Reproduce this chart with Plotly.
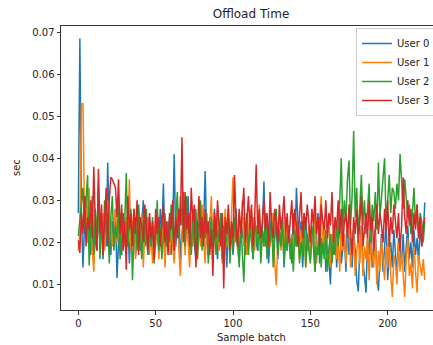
import plotly.graph_objects as go

# Offload time per sample batch, in milliseconds, for each user
user0_ms = [
    27, 68.5, 27, 14, 24, 31, 20, 27, 17, 24, 15, 22, 18, 28, 20,
    24, 16, 26, 19, 39, 22, 17, 25, 19, 28, 11.5, 20, 24, 17, 27,
    21, 18, 26, 15, 23, 20, 27, 17, 22, 25, 18, 24, 30, 19, 22,
    17, 26, 20, 23, 16, 25, 21, 19, 28, 22, 34, 18, 24, 20, 26,
    17, 23, 41, 19, 25, 28, 16, 22, 26, 19, 24, 31, 18, 23, 27,
    20, 16, 25, 22, 29, 19, 24, 37, 21, 17, 26, 23, 19, 28, 22,
    16, 25, 21, 27, 18, 23, 14, 26, 20, 24, 17, 22, 28, 19, 15,
    24, 21, 26, 17, 23, 19, 27, 22, 16, 25, 20, 18, 26, 21, 23,
    34.5, 19, 24, 15, 22, 27, 18, 21, 25, 16, 23, 20, 26, 14, 22,
    18, 24, 20, 15, 27, 19, 33, 23, 17, 25, 14, 21, 26, 18, 22,
    16, 24, 19, 13, 23, 27, 15, 21, 18, 25, 13, 20, 16, 10, 22,
    17, 24, 14, 20, 26, 15, 19, 22, 13, 25, 17, 21, 14, 23, 18,
    11, 8.3, 19, 24, 15, 12, 8, 21, 17, 25, 14, 19, 23, 12, 8.5,
    16, 22, 13, 19, 25, 11, 17, 20, 14, 23, 16, 12, 21, 18, 15,
    22, 13, 19, 24, 16, 20, 14, 23, 17, 21, 15, 25, 19, 22, 29.5,
]
user1_ms = [
    18, 22, 53, 53, 26, 30, 20, 33, 24, 17, 13, 26, 21, 29, 19,
    23, 27, 18, 25, 30, 21, 26, 19, 24, 28, 20, 25, 17, 27, 22,
    19, 26, 21, 35, 18, 24, 28, 16, 22, 25, 19, 27, 14, 23, 20,
    26, 17, 22, 15, 24, 19, 27, 16, 21, 18, 25, 14, 22, 20, 17,
    24, 19, 15, 23, 28, 18, 12, 21, 26, 17, 23, 20, 14, 25, 19,
    22, 27, 16, 24, 19, 29, 21, 15, 25, 18, 23, 31, 17, 22, 20,
    26, 18, 24, 15, 21, 28, 19, 23, 17, 25, 35.5, 20, 24, 18, 27,
    22, 30, 19, 25, 17, 23, 28, 20, 26, 18, 24, 21, 29, 16, 23,
    20, 26, 17, 24, 19, 22, 27, 15, 9.8, 21, 25, 18, 23, 16, 26,
    20, 24, 17, 22, 15, 25, 19, 21, 16, 23, 18, 26, 14, 20, 24,
    17, 22, 19, 28, 15, 21, 25, 31, 18, 23, 16, 20, 27, 14, 22,
    19, 24, 16, 21, 13, 25, 18, 22, 15, 20, 27, 14, 19, 23, 12,
    18, 21, 15, 24, 12, 19, 16, 22, 11, 20, 17, 14, 23, 10, 18,
    13, 21, 16, 11, 19, 14, 22, 12, 7, 17, 15, 10, 20, 13, 18,
    11, 7, 16, 21, 12, 15, 9, 19, 13, 8, 17, 14, 12, 16, 11,
]
user2_ms = [
    21.5, 25, 30, 33, 24, 29, 36, 14.5, 22, 31, 17, 28, 20, 34, 16,
    25, 19, 30, 22, 27, 15, 26, 31, 18, 24, 21, 29, 16, 27, 20,
    25, 36.5, 19, 23, 28, 11, 22, 26, 18, 29, 21, 16, 25, 20, 28,
    17, 23, 19, 26, 15, 21, 30, 18, 24, 16, 22, 27, 19, 25, 20,
    29, 23, 18, 26, 32, 21, 31, 24, 32, 19, 31, 22, 27, 17, 25,
    20, 28, 16, 23, 30, 18, 25, 21, 27, 15, 22, 26, 19, 24, 17,
    23, 20, 27, 16, 24, 19, 21, 28, 15, 23, 18, 26, 20, 22, 14,
    25, 19, 10.5, 22, 27, 17, 24, 20, 16, 26, 21, 18, 25, 15, 23,
    19, 27, 16, 22, 20, 25, 14, 21, 28, 17, 23, 19, 26, 15, 22,
    18, 24, 16, 21, 13, 23, 19, 25, 15, 20, 17, 27, 14, 22, 18,
    15, 21, 24, 13, 19, 17, 26, 14, 20, 16, 23, 13, 18, 22, 15,
    21, 17, 25, 19, 28, 40, 23, 30, 25, 35, 39.5, 24, 31, 46.5, 26,
    33, 21, 28, 36, 24, 30, 22, 27, 34, 20, 29, 25, 32, 23, 39,
    26, 31, 35, 40, 24, 29, 36, 27, 33, 32, 28, 34, 30, 41, 33,
    28, 35, 31, 26, 29, 22, 27, 33, 24, 29, 21, 27, 25, 20, 25,
]
user3_ms = [
    20.5, 17.5, 27, 22, 31, 19, 26, 23, 30, 21, 38, 24, 18, 37.5, 22,
    29, 17, 26, 33, 19, 30, 35.5, 35, 34, 33, 26, 35, 22, 29, 18,
    25, 13.5, 31, 23, 27, 19, 28, 22, 30, 17, 26, 24, 20, 29, 23,
    18, 27, 21, 25, 16, 28, 22, 26, 19, 24, 29, 20, 25, 17, 27,
    23, 30, 18, 26, 21, 28, 24, 45, 20, 32, 23, 27, 19, 33, 25,
    29, 14, 24, 31, 21, 26, 19, 28, 22, 25, 17, 23, 12, 27, 21,
    30, 24, 19, 27, 9, 26, 22, 29, 18, 25, 21, 36, 24, 19, 28,
    22, 27, 33, 20, 25, 31, 23, 29, 19, 26, 38.5, 22, 28, 21, 25,
    30, 23, 27, 19, 32, 24, 21, 28, 25, 20, 29, 23, 26, 31, 22,
    27, 20, 25, 30, 22, 28, 24, 19, 26, 32, 21, 27, 23, 29, 25,
    20, 28, 24, 31, 22, 26, 19, 29, 25, 23, 30, 21, 27, 24, 32,
    20, 26, 23, 30, 22, 28, 19, 25, 27, 21, 29, 24, 17, 26, 22,
    28, 20, 25, 31, 19, 24, 27, 21, 30, 23, 26, 18, 25, 29, 22,
    27, 24, 20, 28, 23, 30, 19, 26, 22, 29, 25, 21, 27, 18, 24,
    35.5, 26, 22, 30, 24, 28, 20, 27, 23, 29, 21, 26, 19, 24, 26,
]

series = [
    ("User 0", user0_ms, "#1f77b4"),
    ("User 1", user1_ms, "#ff7f0e"),
    ("User 2", user2_ms, "#2ca02c"),
    ("User 3", user3_ms, "#d62728"),
]

FONT = "DejaVu Sans"
W, H = 433, 345
ML, MT, MB = 61, 26, 35

fig = go.Figure()
for name, vals, color in series:
    fig.add_trace(go.Scatter(
        x=list(range(len(vals))),
        y=[v / 1000 for v in vals],
        mode="lines",
        name=name,
        line=dict(color=color, width=1.5),
    ))

axis_common = dict(
    showgrid=False, zeroline=False, showline=True, linecolor="#333333",
    linewidth=1, ticks="outside", ticklen=3.5, tickcolor="#333333",
    tickfont=dict(family=FONT, size=10, color="#222222"),
)

fig.update_layout(
    width=W, height=H,
    margin=dict(l=ML, r=0, t=MT, b=MB, autoexpand=False),
    paper_bgcolor="white", plot_bgcolor="white",
    font=dict(family=FONT, color="#222222"),
    title=dict(text="Offload Time", x=251 / W, xref="container", xanchor="center",
               y=1 - 14 / H, yref="container", yanchor="middle",
               font=dict(family=FONT, size=12, color="#222222")),
    xaxis=dict(range=[-11.2, 229.3], tickvals=[0, 50, 100, 150, 200],
               mirror=True, **axis_common),
    yaxis=dict(range=[0.0039, 0.0715], tickvals=[0.01, 0.02, 0.03, 0.04, 0.05, 0.06, 0.07],
               tickformat=".2f", **axis_common),
    legend=dict(x=0.793, y=0.993, xanchor="left", yanchor="top",
                bgcolor="rgba(255,255,255,0.8)", bordercolor="#cccccc", borderwidth=1,
                font=dict(family=FONT, size=10, color="#222222"),
                tracegroupgap=0, itemwidth=30),
    showlegend=True,
    annotations=[
        dict(text="Sample batch", xref="paper", yref="paper",
             x=(251 - ML) / (W - ML), y=-(337 - (H - MB)) / (H - MT - MB),
             xanchor="center", yanchor="middle", showarrow=False,
             font=dict(family=FONT, size=10, color="#222222")),
        dict(text="sec", xref="paper", yref="paper", textangle=-90,
             x=-(ML - 16) / (W - ML), y=0.5, xanchor="center", yanchor="middle",
             showarrow=False, font=dict(family=FONT, size=10, color="#222222")),
    ],
)

fig.write_html("out.html")
